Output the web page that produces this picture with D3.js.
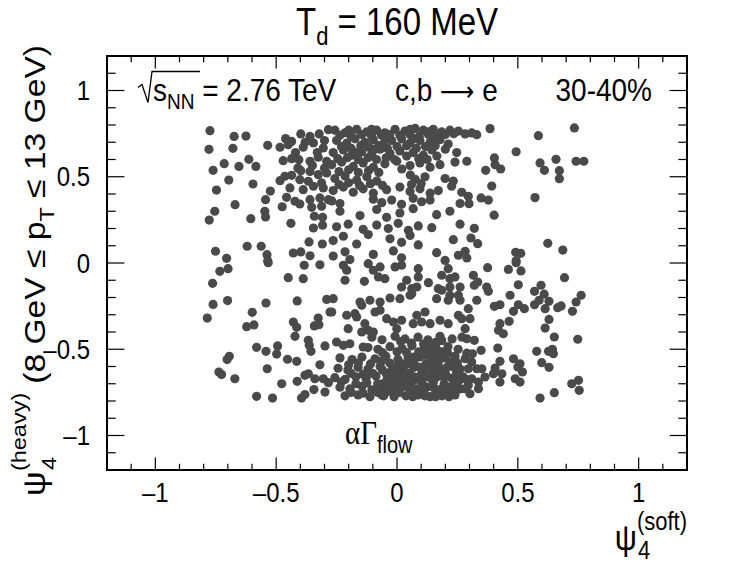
<!DOCTYPE html>
<html>
<head>
<meta charset="utf-8">
<script src="https://cdn.jsdelivr.net/npm/d3@7"></script>
<style>
  body { margin: 0; background: #fff; }
  text { font-family: "Liberation Sans", Arial, sans-serif; fill: #000; }
</style>
</head>
<body>
<svg id="chart" width="756" height="564"></svg>
<script>
// axis ranges / ticks
const X_RANGE = [-1.2, 1.2];
const Y_RANGE = [-1.2, 1.2];
const X_TICKS = [-1, -0.5, 0, 0.5, 1];
const Y_TICKS = [-1, -0.5, 0, 0.5, 1];

// points, [psi4 soft, psi4 heavy]
const scatterLeft = [
  [-0.774,0.767],[-0.674,0.734],[-0.625,0.736],[-0.778,0.659],[-0.679,0.665],[-0.535,0.682],
  [-0.715,0.576],[-0.761,0.537],[-0.654,0.560],[-0.613,0.601],[-0.584,0.560],[-0.696,0.481],
  [-0.596,0.458],[-0.747,0.423],[-0.524,0.417],[-0.544,0.367],[-0.670,0.338],[-0.754,0.300],
  [-0.777,0.249],[-0.605,0.257],[-0.547,0.300],[-0.544,0.267],[-0.475,0.326],[-0.439,0.230],
  [-0.751,0.068],[-0.705,0.027],[-0.620,0.097],[-0.562,0.097],[-0.538,0.048],[-0.535,0.013],
  [-0.429,0.058],[-0.398,0.064],[-0.360,0.042],[-0.364,0.122],[-0.309,0.110],
  [-0.733,-0.048],[-0.699,-0.033],[-0.763,-0.118],[-0.533,0.002],[-0.384,-0.013],[-0.319,-0.010],
  [-0.450,-0.085],[-0.388,-0.091],[-0.761,-0.240],[-0.701,-0.218],[-0.785,-0.319],[-0.542,-0.232],
  [-0.413,-0.220],[-0.291,-0.211],[-0.599,-0.286],[-0.622,-0.369],[-0.592,-0.359],[-0.429,-0.342],
  [-0.415,-0.373],[-0.422,-0.425],[-0.342,-0.365],[-0.326,-0.319],[-0.323,-0.358],[-0.277,-0.284],
  [-0.367,-0.448],[-0.363,-0.477],[-0.356,-0.512],[-0.298,-0.481],[-0.581,-0.489],[-0.542,-0.512],
  [-0.494,-0.481],[-0.498,-0.528],[-0.453,-0.558],[-0.415,-0.570],[-0.694,-0.541],[-0.703,-0.560],
  [-0.737,-0.632],[-0.726,-0.647],[-0.671,-0.671],[-0.537,-0.613],[-0.319,-0.590],[-0.381,-0.651],
  [-0.367,-0.642],[-0.477,-0.700],[-0.413,-0.686],[-0.340,-0.671],[-0.305,-0.671],[-0.284,-0.694],
  [-0.344,-0.734],[-0.298,-0.748],[-0.581,-0.773],[-0.515,-0.783],[-0.395,-0.783],[-0.381,-0.763]
];

const upperCluster = [
  [-0.461,0.721],[-0.436,0.705],[-0.398,0.748],[-0.360,0.734],[-0.322,0.748],[-0.484,0.671],
  [-0.450,0.686],[-0.388,0.671],[-0.346,0.696],[-0.305,0.667],[-0.284,0.773],
  [-0.471,0.593],[-0.436,0.605],[-0.406,0.599],[-0.360,0.590],[-0.326,0.613],[-0.291,0.590],
  [-0.398,0.535],[-0.360,0.531],[-0.464,0.503],[-0.436,0.508],[-0.402,0.483],[-0.367,0.474],
  [-0.326,0.512],[-0.291,0.522],[-0.484,0.477],[-0.312,0.464],
  [-0.443,0.435],[-0.388,0.425],[-0.346,0.445],[-0.305,0.435],[-0.457,0.381],[-0.422,0.358],
  [-0.402,0.342],[-0.360,0.367],[-0.319,0.377],[-0.284,0.367],[-0.353,0.323],[-0.312,0.329],
  [-0.342,0.271],[-0.308,0.265],[-0.346,0.203],[-0.308,0.219],
  [-0.257,0.770],[-0.215,0.755],[-0.167,0.775],[-0.125,0.760],[-0.084,0.770],[-0.050,0.755],
  [-0.008,0.775],[0.033,0.765],[0.075,0.780],[0.109,0.770],[0.150,0.775],[0.185,0.760],
  [0.219,0.770],[0.254,0.765],
  [-0.250,0.710],[-0.208,0.695],[-0.174,0.720],[-0.133,0.700],[-0.098,0.715],[-0.057,0.690],
  [-0.022,0.710],[0.019,0.720],[0.054,0.695],[0.095,0.710],[0.137,0.700],[0.178,0.715],[0.212,0.690],
  [-0.264,0.640],[-0.222,0.655],[-0.188,0.625],[-0.146,0.645],[-0.105,0.630],[-0.070,0.660],
  [-0.029,0.635],[0.012,0.650],[0.067,0.640],[0.109,0.625],[0.144,0.655],[0.247,0.640],
  [-0.270,0.570],[-0.229,0.585],[-0.181,0.560],[-0.140,0.580],[-0.098,0.555],[-0.050,0.575],
  [-0.001,0.590],[0.054,0.565],[0.095,0.580],[0.137,0.555],[0.178,0.570],[0.240,0.585],
  [-0.257,0.490],[-0.215,0.505],[-0.167,0.480],[-0.125,0.500],[-0.084,0.475],[0.055,0.510],
  [0.075,0.485],[0.116,0.500],[0.199,0.490],[0.233,0.475],
  [-0.264,0.420],[-0.222,0.440],[-0.181,0.410],[-0.140,0.430],[-0.098,0.405],[-0.043,0.425],
  [0.012,0.440],[0.054,0.415],[0.095,0.430],[0.137,0.405],[0.171,0.420],[0.226,0.445],[0.268,0.410],
  [-0.270,0.360],[-0.236,0.345],[-0.098,0.370],[-0.063,0.350],[-0.022,0.365],[0.019,0.340],
  [0.067,0.375],[0.102,0.355],[0.137,0.365],[0.261,0.345],
  [-0.236,0.740],[-0.190,0.735],[-0.146,0.745],[-0.105,0.735],[-0.064,0.740],[-0.030,0.745],
  [0.012,0.740],[0.054,0.745],[0.092,0.735],[0.130,0.745],[0.168,0.740],[0.200,0.745],
  [-0.230,0.675],[-0.190,0.665],[-0.150,0.680],[-0.115,0.670],[-0.075,0.680],[-0.040,0.665],
  [0.000,0.675],[0.040,0.680],[0.080,0.665],[0.118,0.675],[0.158,0.680],
  [-0.245,0.605],[-0.205,0.610],[-0.160,0.600],[-0.120,0.610],[-0.085,0.600],[-0.045,0.610],
  [-0.010,0.600],[0.090,0.605],[0.125,0.600],
  [-0.240,0.530],[-0.200,0.540],[-0.160,0.525],[-0.118,0.535],[-0.075,0.525],[0.020,0.545],
  [-0.240,0.455],[-0.200,0.465],[-0.155,0.450],[-0.110,0.460],[-0.060,0.450],[0.060,0.455],[0.100,0.460],
  [-0.200,0.770],[-0.105,0.775],[0.055,0.775],[0.130,0.760],[0.235,0.750],[-0.040,0.720],
  [0.070,0.720],[0.155,0.720],[-0.170,0.640],[-0.090,0.660],[0.040,0.620],[0.165,0.620],
  [0.200,0.660],[-0.420,0.640],[-0.380,0.700],[-0.300,0.710],[-0.330,0.640],[-0.410,0.550],
  [-0.350,0.565],[-0.300,0.550]
];

const middleBand = [
  [-0.236,0.300],[-0.153,0.275],[-0.084,0.310],[-0.043,0.265],[0.012,0.290],[0.067,0.315],
  [0.164,0.280],[0.219,0.300],
  [-0.250,0.210],[-0.202,0.225],[-0.140,0.195],[-0.084,0.220],[-0.036,0.200],[0.005,0.230],
  [0.047,0.190],[0.088,0.215],[0.144,0.205],[0.261,0.225],
  [-0.264,0.130],[-0.222,0.155],[-0.167,0.110],[-0.119,0.165],[-0.029,0.140],[0.019,0.120],
  [0.054,0.160],[0.088,0.105],[0.233,0.135],
  [-0.264,0.040],[-0.215,0.065],[-0.195,0.020],[-0.098,0.050],[-0.015,0.070],[0.019,0.030],
  [0.164,0.060],[0.199,0.015],[0.254,0.045],
  [-0.222,-0.013],[-0.208,-0.042],[-0.119,-0.004],[-0.098,-0.042],[-0.070,-0.023],[-0.050,-0.091],
  [-0.077,-0.081],[-0.008,-0.023],[0.019,-0.013],[0.088,-0.033],[0.088,-0.081],[0.212,-0.033],
  [-0.215,-0.100],[-0.135,-0.106],[0.040,-0.100],[0.019,-0.139],[0.061,-0.149],[0.082,-0.139],
  [0.130,-0.114],[0.185,-0.071],[0.219,-0.091],[0.240,-0.081],[0.219,-0.139],[0.261,-0.139],
  [0.171,-0.149],[0.185,-0.158],[0.061,-0.178],[0.054,-0.187],[0.219,-0.187],[0.254,-0.187],
  [-0.264,-0.207],[-0.270,-0.284],[-0.153,-0.226],[-0.146,-0.245],[-0.112,-0.216],[-0.070,-0.226],
  [-0.029,-0.203],[0.012,-0.207],[0.164,-0.207],[0.212,-0.216],[0.261,-0.216],
  [-0.208,-0.303],[-0.174,-0.294],[-0.167,-0.313],[-0.091,-0.284],[-0.070,-0.274],[0.082,-0.303],
  [0.116,-0.284],[0.254,-0.303],[0.268,-0.323],
  [-0.202,-0.381],[-0.133,-0.352],[-0.119,-0.390],[-0.146,-0.400],[-0.098,-0.400],[-0.043,-0.323],
  [-0.015,-0.342],[0.019,-0.332],[-0.001,-0.381],[0.067,-0.352],[0.102,-0.342],[0.137,-0.352],
  [0.178,-0.332],[0.212,-0.352],
  [-0.250,-0.458],[-0.222,-0.477],[-0.195,-0.468],[-0.140,-0.487]
];

const lowerCluster = [
  [-0.104,-0.430],[-0.062,-0.445],[-0.008,-0.425],[0.033,-0.440],[0.087,-0.430],[0.128,-0.445],
  [0.178,-0.425],[0.228,-0.440],[0.269,-0.430],
  [-0.120,-0.490],[-0.079,-0.500],[-0.029,-0.485],[0.021,-0.495],[0.062,-0.480],[0.112,-0.500],
  [0.161,-0.490],[0.211,-0.485],[0.253,-0.500],
  [-0.236,-0.550],[-0.186,-0.560],[-0.145,-0.545],[-0.091,-0.555],[-0.046,-0.540],[0.004,-0.560],
  [0.046,-0.550],[0.095,-0.545],[0.145,-0.560],[0.195,-0.550],[0.240,-0.540],[0.282,-0.555],
  [-0.244,-0.610],[-0.203,-0.620],[-0.161,-0.605],[-0.120,-0.615],[-0.070,-0.600],[-0.021,-0.620],
  [0.025,-0.610],[0.070,-0.605],[0.116,-0.620],[0.166,-0.610],[0.211,-0.600],[0.261,-0.615],
  [-0.257,-0.665],[-0.215,-0.675],[-0.170,-0.660],[-0.128,-0.670],[-0.087,-0.655],[-0.041,-0.675],
  [0.004,-0.665],[0.046,-0.660],[0.087,-0.675],[0.137,-0.665],[0.182,-0.655],[0.228,-0.670],[0.273,-0.660],
  [-0.236,-0.720],[-0.195,-0.730],[-0.145,-0.715],[-0.104,-0.735],[-0.058,-0.720],[-0.012,-0.730],
  [0.033,-0.715],[0.079,-0.730],[0.124,-0.720],[0.170,-0.735],[0.219,-0.720],[0.261,-0.730],
  [-0.215,-0.770],[-0.161,-0.765],[-0.112,-0.775],[-0.062,-0.765],[-0.012,-0.775],[0.037,-0.770],
  [0.087,-0.765],[0.137,-0.775],[0.186,-0.770],[0.240,-0.765],
  [-0.030,-0.580],[0.020,-0.585],[0.070,-0.575],[0.120,-0.585],[0.170,-0.580],[0.220,-0.575],
  [-0.045,-0.640],[0.000,-0.635],[0.050,-0.640],[0.100,-0.645],[0.150,-0.635],[0.200,-0.640],[0.245,-0.645],
  [-0.060,-0.700],[-0.020,-0.695],[0.025,-0.700],[0.060,-0.690],[0.105,-0.700],[0.150,-0.695],
  [0.195,-0.700],[0.240,-0.695],
  [-0.080,-0.750],[-0.035,-0.745],[0.010,-0.750],[0.060,-0.745],[0.110,-0.750],[0.160,-0.745],[0.210,-0.750],
  [0.040,-0.520],[0.090,-0.515],[0.140,-0.520],[0.185,-0.515],[0.060,-0.465],[0.110,-0.470],[0.160,-0.460],
  [-0.160,-0.580],[-0.110,-0.585],[-0.190,-0.640],[-0.140,-0.645],[-0.100,-0.640],[-0.170,-0.700],
  [-0.125,-0.695],[-0.080,-0.700],
  [0.289,-0.523],[0.309,-0.574],[0.330,-0.613],[0.295,-0.613],[0.282,-0.671],[0.309,-0.671],
  [0.295,-0.709],[0.282,-0.729],
  [0.015,-0.455],[0.135,-0.490],[0.185,-0.450],[-0.060,-0.520],[0.000,-0.515],[0.070,-0.545],
  [0.120,-0.535],[0.165,-0.535],[0.210,-0.525],[0.250,-0.580],[-0.005,-0.605],[0.045,-0.585],
  [0.095,-0.605],[0.140,-0.600],[0.190,-0.615],[0.235,-0.605],[-0.020,-0.660],[0.025,-0.655],
  [0.070,-0.660],[0.115,-0.660],[0.160,-0.665],[0.205,-0.655],[0.255,-0.685],[-0.040,-0.720],
  [0.005,-0.715],[0.050,-0.725],[0.100,-0.720],[0.145,-0.715],[0.190,-0.725],[0.235,-0.720],
  [-0.055,-0.770],[0.065,-0.775],[0.115,-0.770],[0.160,-0.775],[0.215,-0.775],[-0.140,-0.755],
  [-0.190,-0.750],[-0.230,-0.690],[-0.200,-0.590],[-0.065,-0.570],[-0.120,-0.640],[-0.060,-0.620]
];

const scatterRight = [
  [0.385,0.779],[0.309,0.754],[0.330,0.744],[0.282,0.748],[0.585,0.738],[0.734,0.783],
  [0.493,0.645],[0.289,0.590],[0.403,0.609],[0.406,0.570],[0.429,0.545],[0.367,0.537],
  [0.592,0.580],[0.610,0.537],[0.658,0.601],[0.672,0.535],[0.672,0.489],[0.741,0.590],
  [0.773,0.590],[0.392,0.446],[0.295,0.387],[0.298,0.344],[0.348,0.377],[0.378,0.365],
  [0.571,0.379],[0.402,0.277],[0.320,0.201],[0.306,0.145],[0.334,0.112],[0.624,0.114],
  [0.686,0.075],[0.491,0.062],[0.512,0.056],[0.493,0.013],[0.282,0.068],[0.289,0.029],
  [0.375,-0.027],[0.461,-0.037],[0.513,-0.046],[0.493,0.002],[0.316,-0.071],[0.334,-0.110],
  [0.320,-0.129],[0.371,-0.139],[0.378,-0.164],[0.502,-0.126],[0.468,-0.187],[0.693,-0.085],
  [0.569,-0.164],[0.596,-0.129],[0.609,-0.181],[0.330,-0.216],[0.403,-0.251],[0.426,-0.242],
  [0.502,-0.242],[0.527,-0.265],[0.482,-0.280],[0.569,-0.242],[0.588,-0.216],[0.613,-0.265],
  [0.629,-0.222],[0.665,-0.259],[0.679,-0.249],[0.726,-0.280],[0.741,-0.226],[0.762,-0.187],
  [0.295,-0.265],[0.302,-0.323],[0.282,-0.381],[0.289,-0.439],[0.426,-0.352],[0.420,-0.390],
  [0.440,-0.410],[0.464,-0.338],[0.629,-0.327],[0.613,-0.377],[0.651,-0.429],[0.748,-0.442],
  [0.320,-0.448],[0.417,-0.493],[0.348,-0.506],[0.312,-0.526],[0.578,-0.512],[0.627,-0.512],
  [0.643,-0.500],[0.647,-0.526],[0.599,-0.578],[0.629,-0.605],[0.482,-0.555],[0.509,-0.584],
  [0.519,-0.632],[0.500,-0.603],[0.426,-0.570],[0.406,-0.609],[0.434,-0.642],[0.399,-0.642],
  [0.489,-0.671],[0.509,-0.690],[0.426,-0.690],[0.351,-0.613],[0.364,-0.661],[0.337,-0.690],
  [0.337,-0.729],[0.302,-0.758],[0.592,-0.783],[0.651,-0.752],[0.723,-0.700],[0.751,-0.680],
  [0.754,-0.738]
];

const W = 756, H = 564;
const margin = {top: 56, right: 69, bottom: 94, left: 107};
const DOT_R = 4.6;
const DOT_COR = "#4a4a4a";
const DASH = "\u2013";
const STRETCH = 1.15;   // text in the picture is a little taller than wide

const svg = d3.select("#chart");
const g = svg.append("g");

const x = d3.scaleLinear().domain(X_RANGE).range([margin.left, W - margin.right]);
const y = d3.scaleLinear().domain(Y_RANGE).range([H - margin.bottom, margin.top]);

const allPoints = [].concat(scatterLeft, upperCluster, middleBand, lowerCluster, scatterRight);

g.append("g")
  .selectAll("circle")
  .data(allPoints)
  .join("circle")
    .attr("cx", d => x(d[0]))
    .attr("cy", d => y(d[1]))
    .attr("r", DOT_R)
    .attr("fill", DOT_COR);

// ticks, ROOT style: inside, on all four sides
const fw = W - margin.left - margin.right;
const fh = H - margin.top - margin.bottom;
const xMaj = 0.03 * fh, yMaj = 0.03 * fw;
const minorX = d3.range(-11, 12).map(v => v / 10);
const minorY = d3.range(-11, 12).map(v => v / 10);

function isMajor(v) { return Math.abs(v * 2 - Math.round(v * 2)) < 1e-6; }

const tk = g.append("g").attr("stroke", "#000").attr("stroke-width", 1.2);
minorX.forEach(v => {
  let len = isMajor(v) ? xMaj : xMaj / 2;
  let xx = x(v);
  tk.append("line").attr("x1", xx).attr("x2", xx)
    .attr("y1", y(Y_RANGE[0])).attr("y2", y(Y_RANGE[0]) - len);
  tk.append("line").attr("x1", xx).attr("x2", xx)
    .attr("y1", y(Y_RANGE[1])).attr("y2", y(Y_RANGE[1]) + len);
});
minorY.forEach(v => {
  let len = isMajor(v) ? yMaj : yMaj / 2;
  let yy = y(v);
  tk.append("line").attr("y1", yy).attr("y2", yy)
    .attr("x1", x(X_RANGE[0])).attr("x2", x(X_RANGE[0]) + len);
  tk.append("line").attr("y1", yy).attr("y2", yy)
    .attr("x1", x(X_RANGE[1])).attr("x2", x(X_RANGE[1]) - len);
});

g.append("rect")
  .attr("x", margin.left).attr("y", margin.top)
  .attr("width", fw).attr("height", fh)
  .attr("fill", "none").attr("stroke", "#000").attr("stroke-width", 2);

function fmt(v) {
  let s = String(Math.abs(v));
  return v < 0 ? DASH + s : s;
}

// a text placed at (px,py), stretched vertically about its baseline
function label(px, py, size, anchor) {
  return g.append("g")
    .attr("transform", `translate(${px},${py}) scale(1,${STRETCH})`)
    .append("text")
    .attr("x", 0).attr("y", 0)
    .attr("text-anchor", anchor || "start")
    .attr("font-size", size);
}

const TICK_SIZE = 24;
X_TICKS.forEach(v => {
  label(x(v), y(Y_RANGE[0]) + 32, TICK_SIZE, "middle").text(fmt(v));
});
Y_TICKS.forEach(v => {
  label(x(X_RANGE[0]) - 17, y(v) + 9.5, TICK_SIZE, "end").text(fmt(v));
});

// title
const title = label(x(0), 35, 33, "middle");
title.append("tspan").text("T");
title.append("tspan").text("d").attr("font-size", 22).attr("dy", 9);
title.append("tspan").text(" = 160 MeV").attr("dy", -9);

// x axis title: psi with stacked sub/superscript, right aligned to the frame
const xtSup = label(x(X_RANGE[1]), 530, 22, "end").text("(soft)");
const supW = xtSup.node().getComputedTextLength();
label(x(X_RANGE[1]) - supW, 550, 31, "end").text("\u03c8");
label(x(X_RANGE[1]) - supW + 1, 559, 22, "start").text("4");

// y axis title, rotated; stretched along its length
const yg = g.append("g")
  .attr("transform", "translate(45," + (y(Y_RANGE[1]) - 11) + ") rotate(-90) scale(1.12,1)");
const ytMain = yg.append("text")
  .attr("x", 0).attr("y", 0)
  .attr("text-anchor", "end").attr("font-size", 30);
ytMain.append("tspan").text("(8 GeV \u2264 p");
ytMain.append("tspan").text("T").attr("font-size", 21).attr("dy", 9);
ytMain.append("tspan").text(" \u2264 13 GeV)").attr("dy", -9);
const mainW = ytMain.node().getComputedTextLength();
const ySupX = -mainW - 8;
const ytSup = yg.append("text").text("(heavy)")
  .attr("x", ySupX).attr("y", -19).attr("text-anchor", "end").attr("font-size", 21);
const ySupW = ytSup.node().getComputedTextLength();
yg.append("text").text("\u03c8")
  .attr("x", ySupX - ySupW).attr("y", 0).attr("text-anchor", "end").attr("font-size", 31);
yg.append("text").text("4")
  .attr("x", ySupX - ySupW + 1).attr("y", 11).attr("font-size", 21);

// labels inside the frame
const LBL = 28;
const baseY = y(1) + 10;
const sx = 153;
const sq = label(sx, baseY, LBL, "start");
sq.append("tspan").text("s");
sq.append("tspan").text("NN").attr("font-size", 19).attr("dy", 7);
sq.append("tspan").text(" = 2.76 TeV").attr("dy", -7);
g.append("path")
  .attr("d", `M${sx - 15},${baseY - 13} L${sx - 11},${baseY - 16} L${sx - 5},${baseY + 2} L${sx - 1},${baseY - 29} L${sx + 47},${baseY - 29}`)
  .attr("fill", "none").attr("stroke", "#000").attr("stroke-width", 1.3);

const cb = label(395, baseY, LBL, "start");
cb.append("tspan").text("c,b ");
cb.append("tspan").text("\u27f6").attr("font-family", "'DejaVu Sans', sans-serif").attr("font-size", 24);
cb.append("tspan").text(" e");
label(652, baseY, LBL, "end").text("30-40%");

const ag = label(345, y(-1) + 8, 29, "start");
ag.append("tspan").text("\u03b1\u0393").attr("font-family", "'Liberation Serif', 'DejaVu Serif', serif");
ag.append("tspan").text("flow").attr("font-size", 20).attr("dy", 8);
</script>
</body>
</html>
